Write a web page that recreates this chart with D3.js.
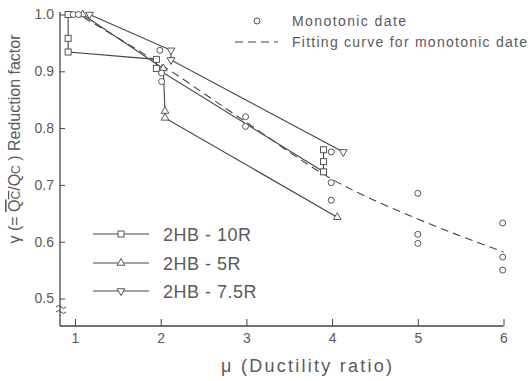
<!DOCTYPE html>
<html>
<head>
<meta charset="utf-8">
<script src="https://cdn.jsdelivr.net/npm/d3@7"></script>
<style>
body { margin: 0; background: #fff; }
text { font-family: "Liberation Sans", Arial, sans-serif; fill: #5a5a5a; }
</style>
</head>
<body>
<svg></svg>
<script>
// tick values
var xTicks = [1, 2, 3, 4, 5, 6];
var yTicks = [0.5, 0.6, 0.7, 0.8, 0.9, 1.0];

// cyclic test series [mu, r]
var hb10r = [[0.92, 1.0], [0.92, 0.958], [0.92, 0.934], [1.95, 0.921], [1.95, 0.905], [3.9, 0.723], [3.9, 0.741], [3.9, 0.762]];
var hb5r = [[1.09, 1.0], [2.03, 0.905], [2.05, 0.83], [2.05, 0.818], [4.06, 0.643]];
var hb75r = [[1.17, 1.0], [2.12, 0.937], [2.12, 0.92], [4.13, 0.758]];

// monotonic data (circles)
var monoMu = [0.98, 1.04, 1.99, 2.01, 2.01, 2.99, 2.99, 3.99, 3.99, 3.99, 5.0, 5.0, 5.0, 5.99, 5.99, 5.99];
var monoR  = [1.0, 1.0, 0.937, 0.897, 0.882, 0.82, 0.803, 0.758, 0.704, 0.673, 0.685, 0.613, 0.597, 0.633, 0.573, 0.55];

// fitting curve for monotonic data
var fitMu = [1.1, 2, 3, 4, 5, 6];
var fitR  = [0.995, 0.912, 0.81, 0.71, 0.64, 0.582];

var legendNames = ["2HB - 10R", "2HB - 5R", "2HB - 7.5R"];

var W = 531, H = 381;
var ink = "#444";
var svg = d3.select("svg").attr("width", W).attr("height", H);

var x = d3.scaleLinear().domain([1, 6]).range([75, 503.5]);
var y = d3.scaleLinear().domain([0.5, 1.0]).range([298.5, 14.5]);

var axisX = 60, axisY = 326;

// axes lines
svg.append("line").attr("x1", axisX).attr("x2", axisX).attr("y1", 12).attr("y2", axisY)
  .attr("stroke", ink).attr("stroke-width", 1.3);
svg.append("line").attr("x1", axisX).attr("x2", x(6)).attr("y1", axisY).attr("y2", axisY)
  .attr("stroke", ink).attr("stroke-width", 1.3);

var gx = svg.append("g")
  .attr("transform", "translate(0," + axisY + ")")
  .call(d3.axisBottom(x).tickValues(xTicks).tickSizeInner(-7).tickSizeOuter(0).tickPadding(7).tickFormat(d3.format("d")));
gx.select(".domain").remove();
gx.selectAll("line").attr("stroke", ink);
gx.selectAll("text").style("font-size", "14px").attr("fill", "#5a5a5a");

var gy = svg.append("g")
  .attr("transform", "translate(" + axisX + ",0)")
  .call(d3.axisLeft(y).tickValues(yTicks).tickSizeInner(-5).tickSizeOuter(0).tickPadding(6).tickFormat(d3.format(".1f")));
gy.select(".domain").remove();
gy.selectAll("line").attr("stroke", ink);
gy.selectAll("text").style("font-size", "14px").attr("fill", "#5a5a5a");

// axis break mark
[307, 312].forEach(function(yy) {
  svg.append("path")
    .attr("d", "M" + (axisX - 4) + "," + yy + " q2.5,-3 5,0 t5,0")
    .attr("fill", "none").attr("stroke", ink).attr("stroke-width", 1);
});

// fitting curve
var fitData = fitMu.map(function(m, i) { return [m, fitR[i]]; });
svg.append("path")
  .datum(fitData)
  .attr("d", d3.line().x(function(d) { return x(d[0]); }).y(function(d) { return y(d[1]); }).curve(d3.curveMonotoneX))
  .attr("fill", "none").attr("stroke", ink).attr("stroke-width", 1.1)
  .attr("stroke-dasharray", "8,5");

// series lines
var lineGen = d3.line().x(function(d) { return x(d[0]); }).y(function(d) { return y(d[1]); });
[hb10r, hb5r, hb75r].forEach(function(s) {
  svg.append("path").datum(s).attr("d", lineGen)
    .attr("fill", "none").attr("stroke", ink).attr("stroke-width", 1.1);
});

// marker shapes
function marker(g, type, cx, cy) {
  if (type === "sq") {
    g.append("rect").attr("x", cx - 3).attr("y", cy - 3).attr("width", 6).attr("height", 6);
  } else if (type === "up") {
    g.append("path").attr("d", d3.symbol().type(d3.symbolTriangle).size(26)).attr("transform", "translate(" + cx + "," + cy + ")");
  } else if (type === "down") {
    g.append("path").attr("d", d3.symbol().type(d3.symbolTriangle).size(26)).attr("transform", "translate(" + cx + "," + cy + ") rotate(180)");
  } else {
    g.append("circle").attr("cx", cx).attr("cy", cy).attr("r", 3);
  }
}

var mg = svg.append("g").attr("fill", "#fff").attr("stroke", "#555").attr("stroke-width", 1);
hb10r.forEach(function(d) { marker(mg, "sq", x(d[0]), y(d[1])); });
hb5r.forEach(function(d) { marker(mg, "up", x(d[0]), y(d[1])); });
hb75r.forEach(function(d) { marker(mg, "down", x(d[0]), y(d[1])); });
monoMu.forEach(function(m, i) { marker(mg, "circle", x(m), y(monoR[i])); });

// top-right legend
var lg = svg.append("g").attr("fill", "#fff").attr("stroke", "#555");
marker(lg, "circle", 257, 21);
svg.append("line").attr("x1", 235).attr("x2", 278).attr("y1", 42).attr("y2", 42)
  .attr("stroke", ink).attr("stroke-width", 1.1).attr("stroke-dasharray", "8,5");
svg.append("text").attr("x", 292).attr("y", 26).style("font-size", "14px")
  .attr("textLength", 114).text("Monotonic  date");
svg.append("text").attr("x", 292).attr("y", 47).style("font-size", "14px")
  .attr("textLength", 235).text("Fitting curve for monotonic date");

// bottom-left legend
var types = ["sq", "up", "down"];
var rowsY = [234, 263, 291];
legendNames.forEach(function(name, i) {
  svg.append("line").attr("x1", 93).attr("x2", 149).attr("y1", rowsY[i]).attr("y2", rowsY[i])
    .attr("stroke", ink).attr("stroke-width", 1);
  var g = svg.append("g").attr("fill", "#fff").attr("stroke", "#555");
  marker(g, types[i], 121, rowsY[i]);
  svg.append("text").attr("x", 163).attr("y", rowsY[i] + 7).style("font-size", "18px")
    .style("letter-spacing", "0.5px").text(name);
});

// y title
var yt = svg.append("text")
  .attr("transform", "translate(20,139) rotate(-90)")
  .attr("text-anchor", "middle")
  .style("font-size", "16px");
yt.append("tspan").text("\u03b3 (= ");
yt.append("tspan").style("text-decoration", "overline").text("Q");
yt.append("tspan").style("text-decoration", "overline").style("font-size", "12px").text("C");
yt.append("tspan").text("/Q");
yt.append("tspan").style("font-size", "12px").text("C");
yt.append("tspan").text(" ) Reduction factor");

// x title
svg.append("text").attr("x", 221).attr("y", 372)
  .attr("textLength", 171)
  .style("font-size", "18px").text("\u03bc  (Ductility ratio)");
</script>
</body>
</html>
